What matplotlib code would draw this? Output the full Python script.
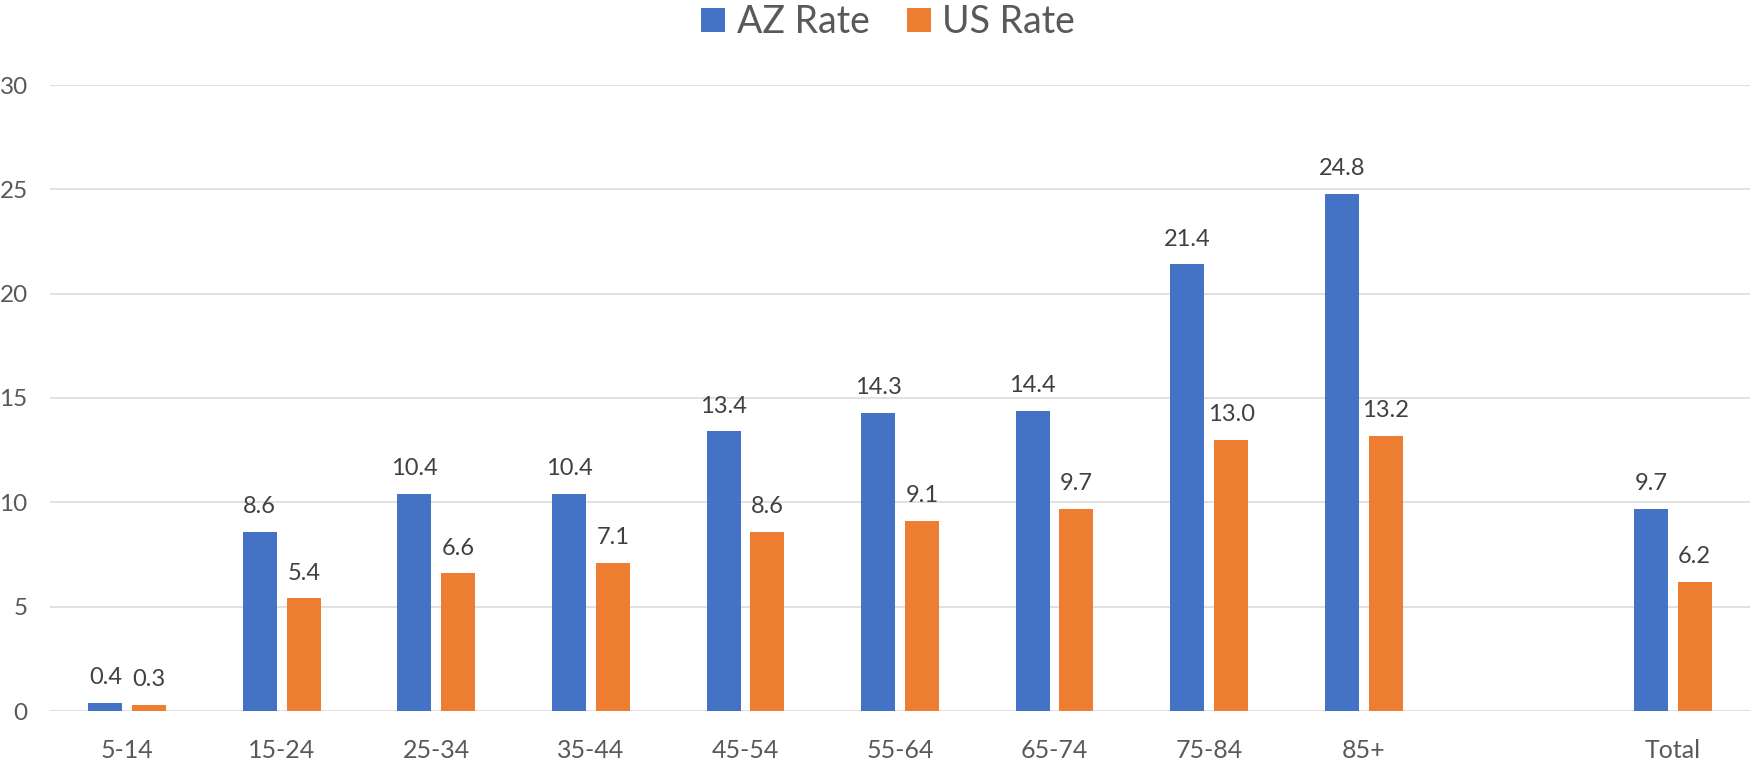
import numpy as np
import matplotlib
matplotlib.use("Agg")
import matplotlib.pyplot as plt

# age groups, with an empty slot before the total
groups = ["5-14", "15-24", "25-34", "35-44", "45-54", "55-64", "65-74", "75-84", "85+", "", "Total"]
az_rate = [0.4, 8.6, 10.4, 10.4, 13.4, 14.3, 14.4, 21.4, 24.8, np.nan, 9.7]
us_rate = [0.3, 5.4, 6.6, 7.1, 8.6, 9.1, 9.7, 13.0, 13.2, np.nan, 6.2]

plt.rcParams["font.family"] = ["Lato", "DejaVu Sans"]

fig = plt.figure(figsize=(17.52, 7.66), dpi=100)
ax = fig.add_axes([50 / 1752, 1 - 711 / 766, 1700 / 1752, 626 / 766])

x = np.arange(len(groups))
w = 0.22
off = 0.142
b1 = ax.bar(x - off, az_rate, w, color="#4472C4", label="AZ Rate", zorder=3)
b2 = ax.bar(x + off, us_rate, w, color="#ED7D31", label="US Rate", zorder=3)

for bars, vals in [(b1, az_rate), (b2, us_rate)]:
    for rect, v in zip(bars, vals):
        if np.isnan(v):
            continue
        ax.annotate(f"{v:.1f}", (rect.get_x() + rect.get_width() / 2, v),
                    xytext=(0, 13.5), textcoords="offset points",
                    ha="center", va="baseline", fontsize=17, color="#404040")

ax.set_xlim(-0.5, len(groups) - 0.5)
ax.set_ylim(0, 30)
ax.set_yticks(range(0, 31, 5))
ax.set_xticks(x)
ax.set_xticklabels(groups)
ax.yaxis.grid(True, color="#d9d9d9", linewidth=1.1, zorder=0)
ax.set_axisbelow(True)
for s in ax.spines.values():
    s.set_visible(False)
ax.tick_params(axis="y", length=0, pad=16, labelsize=17.5, labelcolor="#595959")
ax.tick_params(axis="x", length=0, pad=20, labelsize=18, labelcolor="#595959")

fig.legend(loc="center", bbox_to_anchor=(0.507, 0.971), ncol=2, frameon=False,
           fontsize=27, handlelength=0.64, handleheight=0.64, handletextpad=0.3,
           columnspacing=1.0, labelcolor="#595959")

fig.savefig("out.png", dpi=100)
